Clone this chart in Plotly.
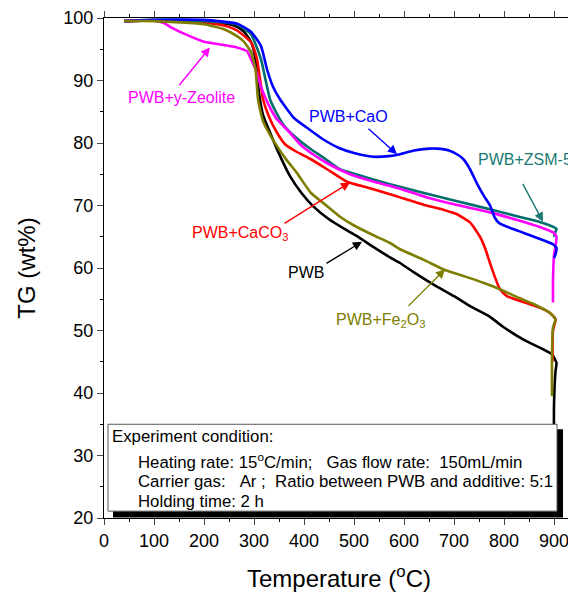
import plotly.graph_objects as go

# ---------------- data ----------------
pwb_T = [40, 100, 150, 200, 250, 266, 280, 294, 303, 310, 318, 332, 350, 372, 395, 418, 450, 480, 506, 540,
         572, 592, 620, 660, 700, 732, 770, 798, 840, 878, 896, 905, 903, 900, 900]
pwb_TG = [99.5, 99.6, 99.5, 99.3, 99.0, 98.6, 97.8, 96.2, 93.4, 88.0, 84.5, 81.7, 78.3, 74.7, 72.0, 69.9, 67.8,
          66.3, 65.1, 63.3, 61.7, 60.8, 59.3, 57.3, 55.5, 53.9, 52.3, 50.6, 48.5, 47.0, 46.2, 44.8, 43.5, 38.0, 30.0]

fe_T = [40, 100, 150, 200, 240, 266, 280, 294, 303, 308, 318, 332, 346, 365, 385, 414, 440, 472, 500, 540,
        572, 592, 640, 678, 720, 760, 792, 830, 860, 892, 903, 898, 896, 896]
fe_TG = [99.5, 99.5, 99.3, 99.0, 98.2, 97.1, 96.2, 94.5, 91.8, 87.0, 83.5, 81.3, 79.5, 77.3, 75.3, 72.0, 70.3,
         68.2, 66.8, 65.2, 64.0, 63.0, 61.3, 59.8, 58.7, 57.6, 56.6, 55.2, 54.2, 52.8, 51.8, 50.5, 46.0, 39.5]

caco3_T = [40, 100, 150, 200, 240, 266, 294, 306, 318, 330, 345, 362, 385, 414, 450, 486, 530, 572, 592, 640,
           680, 706, 732, 752, 762, 772, 782, 792, 806, 840, 870, 892, 903, 898, 897]
caco3_TG = [99.5, 99.6, 99.5, 99.3, 98.8, 98.0, 96.1, 93.4, 87.0, 84.2, 81.8, 79.8, 78.6, 77.4, 75.6, 73.8, 72.8,
            71.8, 71.3, 70.1, 69.3, 68.6, 67.3, 65.0, 63.2, 60.8, 58.5, 56.6, 55.5, 54.5, 53.7, 52.8, 51.8, 50.0, 45.0]

zsm5_T = [40, 100, 150, 200, 240, 266, 294, 314, 322, 332, 345, 360, 385, 414, 440, 472, 520, 572, 592, 640,
          700, 772, 830, 870, 898, 905, 902, 900]
zsm5_TG = [99.5, 99.7, 99.7, 99.5, 99.3, 99.0, 97.4, 93.4, 90.5, 87.0, 84.8, 82.8, 80.8, 79.0, 77.6, 75.8, 74.6,
           73.4, 73.0, 72.0, 70.8, 69.4, 68.2, 67.4, 66.6, 66.3, 65.6, 65.0]

zeo_T = [40, 100, 120, 134, 160, 200, 230, 266, 286, 294, 303, 314, 324, 335, 346, 370, 392, 414, 450, 492,
         540, 592, 650, 700, 772, 830, 870, 898, 905, 900, 898, 898]
zeo_TG = [99.5, 99.6, 99.2, 98.5, 97.5, 96.2, 95.8, 95.3, 94.7, 93.4, 91.8, 89.0, 87.0, 85.2, 83.8, 81.8, 79.8,
          78.4, 76.6, 75.0, 73.8, 72.7, 71.2, 70.2, 68.9, 67.6, 66.6, 65.7, 65.0, 62.0, 58.0, 54.5]

cao_T = [40, 100, 200, 266, 294, 314, 326, 338, 352, 380, 410, 438, 470, 500, 538, 570, 592, 620, 650, 666,
         690, 710, 720, 732, 746, 760, 772, 782, 790, 800, 830, 860, 898, 905, 903, 900]
cao_TG = [99.5, 99.7, 99.7, 99.1, 97.8, 95.5, 91.8, 89.0, 87.0, 84.0, 82.2, 80.6, 79.2, 78.4, 77.8, 77.9, 78.2,
          78.8, 79.1, 79.1, 78.8, 78.0, 77.3, 75.8, 73.5, 71.5, 70.0, 68.0, 67.2, 66.8, 65.9, 65.0, 63.8, 63.2,
          62.2, 61.6]

x_ticks = [0, 100, 200, 300, 400, 500, 600, 700, 800, 900]
y_ticks = [20, 30, 40, 50, 60, 70, 80, 90, 100]

C_BLACK = "#000000"
C_OLIVE = "#7d7d00"
C_RED = "#ff0000"
C_TEAL = "#006e6a"
C_MAG = "#ff00ff"
C_BLUE = "#0000ff"

FONT = "Liberation Sans, Arial, sans-serif"

fig = go.Figure()
series = [
    ("PWB", pwb_T, pwb_TG, C_BLACK),
    ("PWB+CaCO3", caco3_T, caco3_TG, C_RED),
    ("PWB+ZSM-5", zsm5_T, zsm5_TG, C_TEAL),
    ("PWB+y-Zeolite", zeo_T, zeo_TG, C_MAG),
    ("PWB+CaO", cao_T, cao_TG, C_BLUE),
    ("PWB+Fe2O3", fe_T, fe_TG, C_OLIVE),
]
for name, xs, ys, col in series:
    fig.add_trace(go.Scatter(x=xs, y=ys, mode="lines", name=name,
                             line=dict(color=col, width=2.6, shape="spline", smoothing=0.5),
                             showlegend=False))

# ---------------- labels with arrows ----------------
labels = [
    ("PWB+y-Zeolite", 154, 87.3, 148, 89.0, 212, 95.3, C_MAG),
    ("PWB+CaO", 488, 84.2, 526, 82.5, 586, 78.2, C_BLUE),
    ("PWB+ZSM-5", 842, 77.4, 836, 73.7, 878, 67.4, "#1a7a73"),
    ("PWB+CaCO<sub>3</sub>", 272, 65.6, 358, 67.0, 492, 73.7, C_RED),
    ("PWB", 404, 59.3, 442, 60.6, 516, 64.2, C_BLACK),
    ("PWB+Fe<sub>2</sub>O<sub>3</sub>", 552, 51.6, 606, 53.7, 682, 59.8, C_OLIVE),
]
for text, tx, ty, ax, ay, hx, hy, col in labels:
    fig.add_annotation(x=tx, y=ty, xref="x", yref="y", text=text, showarrow=False,
                       font=dict(family=FONT, size=16, color=col))
    fig.add_annotation(x=hx, y=hy, ax=ax, ay=ay, xref="x", yref="y", axref="x", ayref="y",
                       text="", showarrow=True, arrowhead=2, arrowsize=1.3, arrowwidth=1.4,
                       arrowcolor=col, standoff=0, startstandoff=0)

# ---------------- condition box ----------------
fig.add_shape(type="rect", xref="x", yref="y", x0=18, x1=918, y0=20.1, y1=34.2,
              fillcolor="black", line=dict(width=0), layer="above")
fig.add_shape(type="rect", xref="x", yref="y", x0=8, x1=906, y0=21.1, y1=35.0,
              fillcolor="white", line=dict(color="#555555", width=1), layer="above")

box_lines = [
    ("Experiment condition:", 12, 33.0),
    ("Heating rate: 15<sup>o</sup>C/min;\u00a0\u00a0\u00a0Gas flow rate:\u00a0\u00a0150mL/min", 64, 29.2),
    ("Carrier gas:\u00a0\u00a0\u00a0Ar ;\u00a0\u00a0Ratio between PWB and additive: 5:1", 64, 25.8),
    ("Holding time: 2 h", 64, 22.6),
]
for text, bx, by in box_lines:
    fig.add_annotation(x=bx, y=by, xref="x", yref="y", text=text, showarrow=False,
                       xanchor="left", yanchor="middle",
                       font=dict(family=FONT, size=16.8, color="black"))

# light right border line
fig.add_shape(type="line", xref="paper", yref="paper", x0=1, x1=1, y0=0, y1=1,
              line=dict(color="#aaaaaa", width=1))

# the page body adds an 8 px margin, so the figure is drawn 8 px smaller
fig.update_layout(
    width=568, height=585,
    margin=dict(l=96, r=2, t=10, b=75, autoexpand=False),
    paper_bgcolor="white", plot_bgcolor="white",
    font=dict(family=FONT, color="black"),
    xaxis=dict(range=[0, 940], tickvals=x_ticks, ticks="outside", ticklen=6, tickwidth=1,
               automargin=False,
               showline=True, linecolor="black", linewidth=1, mirror="ticks",
               showgrid=False, zeroline=False,
               minor=dict(dtick=50, tick0=0, ticks="outside", ticklen=3, tickcolor="black"),
               tickfont=dict(size=18, family=FONT),
               title=dict(text="Temperature (<sup>o</sup>C)", font=dict(size=24, family=FONT), standoff=20)),
    yaxis=dict(range=[20, 100], tickvals=y_ticks, ticks="outside", ticklen=6, tickwidth=1,
               automargin=False,
               showline=True, linecolor="black", linewidth=1,
               showgrid=False, zeroline=False,
               minor=dict(dtick=5, tick0=0, ticks="outside", ticklen=3, tickcolor="black"),
               tickfont=dict(size=18, family=FONT),
               title=dict(text="TG (wt%)", font=dict(size=24, family=FONT), standoff=20)),
)

fig.write_html("out.html")
